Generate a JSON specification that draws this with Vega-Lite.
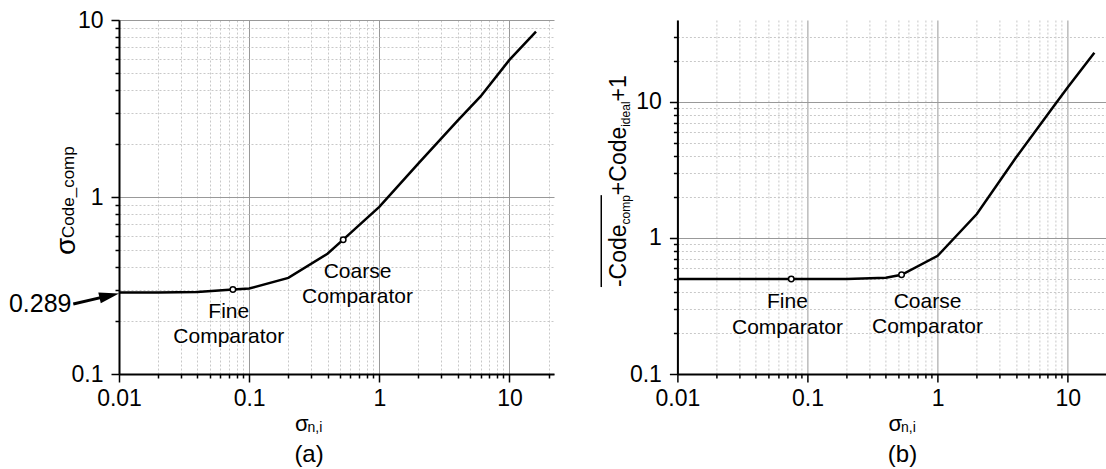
{
  "$schema": "https://vega.github.io/schema/vega-lite/v6.json",
  "padding": {"left": 8, "top": 9, "right": 0, "bottom": 0},
  "background": "white",
  "config": {
    "view": {"stroke": null},
    "font": "Liberation Sans",
    "text": {"font": "Liberation Sans", "color": "black"},
    "axis": {
      "labelFont": "Liberation Sans",
      "labelFontSize": 23,
      "labelColor": "black",
      "domainColor": "black",
      "domainWidth": 2,
      "tickColor": "black",
      "tickWidth": 1.5,
      "labelOverlap": false,
      "labelFlush": false,
      "title": null
    }
  },
  "datasets": {
    "curveA": [
      {"x": 0.01, "y": 0.289}, {"x": 0.02, "y": 0.289}, {"x": 0.04, "y": 0.291},
      {"x": 0.075, "y": 0.3}, {"x": 0.1, "y": 0.304}, {"x": 0.2, "y": 0.349},
      {"x": 0.4, "y": 0.478}, {"x": 0.528, "y": 0.574}, {"x": 1, "y": 0.88},
      {"x": 2, "y": 1.55}, {"x": 4, "y": 2.7}, {"x": 6, "y": 3.7},
      {"x": 10, "y": 5.95}, {"x": 16, "y": 8.6}
    ],
    "markA": [{"x": 0.075, "y": 0.3}, {"x": 0.528, "y": 0.574}],
    "curveB": [
      {"x": 0.01, "y": 0.5}, {"x": 0.1, "y": 0.5}, {"x": 0.2, "y": 0.5},
      {"x": 0.4, "y": 0.51}, {"x": 0.528, "y": 0.536}, {"x": 1, "y": 0.74},
      {"x": 2, "y": 1.5}, {"x": 4, "y": 3.9}, {"x": 8, "y": 9.6},
      {"x": 10, "y": 12.8}, {"x": 16, "y": 23}
    ],
    "markB": [{"x": 0.075, "y": 0.5}, {"x": 0.528, "y": 0.536}],
    "annotA": [
      {"t": "Fine", "x": 0.0697, "y": 0.2249},
      {"t": "Comparator", "x": 0.0697, "y": 0.161},
      {"t": "Coarse", "x": 0.68, "y": 0.378},
      {"t": "Comparator", "x": 0.68, "y": 0.273}
    ],
    "annotB": [
      {"t": "Fine", "x": 0.0701, "y": 0.3357},
      {"t": "Comparator", "x": 0.0701, "y": 0.2189},
      {"t": "Coarse", "x": 0.835, "y": 0.3387},
      {"t": "Comparator", "x": 0.835, "y": 0.2226}
    ]
  },
  "bounds": "flush",
  "spacing": 123.4,
  "hconcat": [
    {
      "width": 435,
      "height": 354,
      "resolve": {"axis": {"x": "independent", "y": "independent"}},
      "layer": [
        {
          "data": {"name": "curveA"},
          "mark": {"type": "line", "opacity": 0},
          "encoding": {
            "x": {"field": "x", "type": "quantitative",
              "scale": {"type": "log", "domain": [0.01, 22], "nice": false},
              "axis": {"orient": "bottom", "values": [0.02,0.03,0.04,0.05,0.06,0.07,0.08,0.09,0.2,0.3,0.4,0.5,0.6,0.7,0.8,0.9,2,3,4,5,6,7,8,9,20],
                "labels": false, "domain": false, "tickSize": 4, "grid": true, "gridColor": "#c8c8c8", "gridDash": [2, 2], "gridWidth": 1}},
            "y": {"field": "y", "type": "quantitative",
              "scale": {"type": "log", "domain": [0.1, 10], "nice": false},
              "axis": {"orient": "left", "values": [0.2,0.3,0.4,0.5,0.6,0.7,0.8,0.9,2,3,4,5,6,7,8,9],
                "labels": false, "domain": false, "tickSize": 4, "grid": true, "gridColor": "#c8c8c8", "gridDash": [2, 2], "gridWidth": 1}}
          }
        },
        {
          "data": {"name": "curveA"},
          "mark": {"type": "line", "color": "black", "strokeWidth": 2.5},
          "encoding": {
            "x": {"field": "x", "type": "quantitative",
              "scale": {"type": "log", "domain": [0.01, 22], "nice": false},
              "axis": {"orient": "bottom", "values": [0.01, 0.1, 1, 10], "format": "~g", "tickSize": 8, "labelPadding": 5,
                "grid": true, "gridColor": "#999999", "gridWidth": 1}},
            "y": {"field": "y", "type": "quantitative",
              "scale": {"type": "log", "domain": [0.1, 10], "nice": false},
              "axis": {"orient": "left", "values": [0.1, 1, 10], "format": "~g", "tickSize": 8, "labelPadding": 8,
                "grid": true, "gridColor": "#999999", "gridWidth": 1}}
          }
        },
        {
          "data": {"name": "markA"},
          "mark": {"type": "point", "filled": true, "fill": "white", "stroke": "black", "strokeWidth": 1.5, "size": 30, "opacity": 1},
          "encoding": {
            "x": {"field": "x", "type": "quantitative", "scale": {"type": "log", "domain": [0.01, 22], "nice": false}, "axis": null},
            "y": {"field": "y", "type": "quantitative", "scale": {"type": "log", "domain": [0.1, 10], "nice": false}, "axis": null}
          }
        },
        {
          "data": {"name": "annotA"},
          "mark": {"type": "text", "fontSize": 21, "align": "center", "baseline": "middle"},
          "encoding": {
            "x": {"field": "x", "type": "quantitative", "scale": {"type": "log", "domain": [0.01, 22], "nice": false}, "axis": null},
            "y": {"field": "y", "type": "quantitative", "scale": {"type": "log", "domain": [0.1, 10], "nice": false}, "axis": null},
            "text": {"field": "t"}
          }
        },
        {
          "data": {"values": [{"t": "σ", "x": 0.00459, "y": 0.47}]},
          "mark": {"type": "text", "fontSize": 28, "angle": 270, "align": "left", "baseline": "alphabetic"},
          "encoding": {
            "x": {"field": "x", "type": "quantitative", "scale": {"type": "log", "domain": [0.01, 22], "nice": false}, "axis": null},
            "y": {"field": "y", "type": "quantitative", "scale": {"type": "log", "domain": [0.1, 10], "nice": false}, "axis": null},
            "text": {"field": "t"}
          }
        },
        {
          "data": {"values": [{"t": "Code_comp", "x": 0.00451, "y": 0.587}]},
          "mark": {"type": "text", "fontSize": 17, "angle": 270, "align": "left", "baseline": "alphabetic"},
          "encoding": {
            "x": {"field": "x", "type": "quantitative", "scale": {"type": "log", "domain": [0.01, 22], "nice": false}, "axis": null},
            "y": {"field": "y", "type": "quantitative", "scale": {"type": "log", "domain": [0.1, 10], "nice": false}, "axis": null},
            "text": {"field": "t"}
          }
        },
        {
          "data": {"values": [{"t": "σ", "x": 0.2254, "y": 0.04764}]},
          "mark": {"type": "text", "fontSize": 22, "align": "left", "baseline": "alphabetic"},
          "encoding": {
            "x": {"field": "x", "type": "quantitative", "scale": {"type": "log", "domain": [0.01, 22], "nice": false}, "axis": null},
            "y": {"field": "y", "type": "quantitative", "scale": {"type": "log", "domain": [0.1, 10], "nice": false}, "axis": null},
            "text": {"field": "t"}
          }
        },
        {
          "data": {"values": [{"t": "n,i", "x": 0.2812, "y": 0.04701}]},
          "mark": {"type": "text", "fontSize": 14, "align": "left", "baseline": "alphabetic"},
          "encoding": {
            "x": {"field": "x", "type": "quantitative", "scale": {"type": "log", "domain": [0.01, 22], "nice": false}, "axis": null},
            "y": {"field": "y", "type": "quantitative", "scale": {"type": "log", "domain": [0.1, 10], "nice": false}, "axis": null},
            "text": {"field": "t"}
          }
        },
        {
          "data": {"values": [{"t": "(a)", "x": 0.2886, "y": 0.03194}]},
          "mark": {"type": "text", "fontSize": 24, "align": "center", "baseline": "alphabetic"},
          "encoding": {
            "x": {"field": "x", "type": "quantitative", "scale": {"type": "log", "domain": [0.01, 22], "nice": false}, "axis": null},
            "y": {"field": "y", "type": "quantitative", "scale": {"type": "log", "domain": [0.1, 10], "nice": false}, "axis": null},
            "text": {"field": "t"}
          }
        },
        {
          "data": {"values": [{"t": "0.289", "x": 0.004315, "y": 0.2486}]},
          "mark": {"type": "text", "fontSize": 25, "align": "right", "baseline": "middle"},
          "encoding": {
            "x": {"field": "x", "type": "quantitative", "scale": {"type": "log", "domain": [0.01, 22], "nice": false}, "axis": null},
            "y": {"field": "y", "type": "quantitative", "scale": {"type": "log", "domain": [0.1, 10], "nice": false}, "axis": null},
            "text": {"field": "t"}
          }
        },
        {
          "data": {"values": [{"x": 0.004454, "y": 0.2486, "x2": 0.0078, "y2": 0.2737}]},
          "mark": {"type": "rule", "color": "black", "strokeWidth": 3},
          "encoding": {
            "x": {"field": "x", "type": "quantitative", "scale": {"type": "log", "domain": [0.01, 22], "nice": false}, "axis": null},
            "y": {"field": "y", "type": "quantitative", "scale": {"type": "log", "domain": [0.1, 10], "nice": false}, "axis": null},
            "x2": {"field": "x2"},
            "y2": {"field": "y2"}
          }
        },
        {
          "data": {"values": [{"x": 0.00842, "y": 0.277}]},
          "mark": {"type": "point", "shape": "M -1 -0.55 L 1 0 L -1 0.55 Z", "size": 400, "angle": -13, "filled": true, "color": "black", "opacity": 1},
          "encoding": {
            "x": {"field": "x", "type": "quantitative", "scale": {"type": "log", "domain": [0.01, 22], "nice": false}, "axis": null},
            "y": {"field": "y", "type": "quantitative", "scale": {"type": "log", "domain": [0.1, 10], "nice": false}, "axis": null}
          }
        }
      ]
    },
    {
      "width": 429,
      "height": 354,
      "resolve": {"axis": {"x": "independent", "y": "independent"}},
      "layer": [
        {
          "data": {"name": "curveB"},
          "mark": {"type": "line", "opacity": 0},
          "encoding": {
            "x": {"field": "x", "type": "quantitative",
              "scale": {"type": "log", "domain": [0.01, 19.8], "nice": false},
              "axis": {"orient": "bottom", "values": [0.02,0.03,0.04,0.05,0.06,0.07,0.08,0.09,0.2,0.3,0.4,0.5,0.6,0.7,0.8,0.9,2,3,4,5,6,7,8,9],
                "labels": false, "domain": false, "tickSize": 4, "grid": true, "gridColor": "#c8c8c8", "gridDash": [2, 2], "gridWidth": 1}},
            "y": {"field": "y", "type": "quantitative",
              "scale": {"type": "log", "domain": [0.1, 40], "nice": false},
              "axis": {"orient": "left", "values": [0.2,0.3,0.4,0.5,0.6,0.7,0.8,0.9,2,3,4,5,6,7,8,9,20,30],
                "labels": false, "domain": false, "tickSize": 4, "grid": true, "gridColor": "#c8c8c8", "gridDash": [2, 2], "gridWidth": 1}}
          }
        },
        {
          "data": {"name": "curveB"},
          "mark": {"type": "line", "color": "black", "strokeWidth": 2.5},
          "encoding": {
            "x": {"field": "x", "type": "quantitative",
              "scale": {"type": "log", "domain": [0.01, 19.8], "nice": false},
              "axis": {"orient": "bottom", "values": [0.01, 0.1, 1, 10], "format": "~g", "tickSize": 8, "labelPadding": 5,
                "grid": true, "gridColor": "#999999", "gridWidth": 1}},
            "y": {"field": "y", "type": "quantitative",
              "scale": {"type": "log", "domain": [0.1, 40], "nice": false},
              "axis": {"orient": "left", "values": [0.1, 1, 10], "format": "~g", "tickSize": 8, "labelPadding": 8,
                "grid": true, "gridColor": "#999999", "gridWidth": 1}}
          }
        },
        {
          "data": {"name": "markB"},
          "mark": {"type": "point", "filled": true, "fill": "white", "stroke": "black", "strokeWidth": 1.5, "size": 30, "opacity": 1},
          "encoding": {
            "x": {"field": "x", "type": "quantitative", "scale": {"type": "log", "domain": [0.01, 19.8], "nice": false}, "axis": null},
            "y": {"field": "y", "type": "quantitative", "scale": {"type": "log", "domain": [0.1, 40], "nice": false}, "axis": null}
          }
        },
        {
          "data": {"name": "annotB"},
          "mark": {"type": "text", "fontSize": 21, "align": "center", "baseline": "middle"},
          "encoding": {
            "x": {"field": "x", "type": "quantitative", "scale": {"type": "log", "domain": [0.01, 19.8], "nice": false}, "axis": null},
            "y": {"field": "y", "type": "quantitative", "scale": {"type": "log", "domain": [0.1, 40], "nice": false}, "axis": null},
            "text": {"field": "t"}
          }
        },
        {
          "data": {"values": [{"t": "-Code", "x": 0.004055, "y": 0.4356}, {"t": "+Code", "x": 0.004055, "y": 2.0634}, {"t": "+1", "x": 0.004055, "y": 10.07}]},
          "mark": {"type": "text", "fontSize": 23, "angle": 270, "align": "left", "baseline": "alphabetic"},
          "encoding": {
            "x": {"field": "x", "type": "quantitative", "scale": {"type": "log", "domain": [0.01, 19.8], "nice": false}, "axis": null},
            "y": {"field": "y", "type": "quantitative", "scale": {"type": "log", "domain": [0.1, 40], "nice": false}, "axis": null},
            "text": {"field": "t"}
          }
        },
        {
          "data": {"values": [{"t": "comp", "x": 0.004355, "y": 1.2566}, {"t": "ideal", "x": 0.004355, "y": 6.561}]},
          "mark": {"type": "text", "fontSize": 12, "angle": 270, "align": "left", "baseline": "alphabetic"},
          "encoding": {
            "x": {"field": "x", "type": "quantitative", "scale": {"type": "log", "domain": [0.01, 19.8], "nice": false}, "axis": null},
            "y": {"field": "y", "type": "quantitative", "scale": {"type": "log", "domain": [0.1, 40], "nice": false}, "axis": null},
            "text": {"field": "t"}
          }
        },
        {
          "data": {"values": [{"x": 0.0026, "y": 0.4356, "y2": 2.0634}]},
          "mark": {"type": "rule", "color": "black", "strokeWidth": 1.5},
          "encoding": {
            "x": {"field": "x", "type": "quantitative", "scale": {"type": "log", "domain": [0.01, 19.8], "nice": false}, "axis": null},
            "y": {"field": "y", "type": "quantitative", "scale": {"type": "log", "domain": [0.1, 40], "nice": false}, "axis": null},
            "y2": {"field": "y2"}
          }
        },
        {
          "data": {"values": [{"t": "σ", "x": 0.4184, "y": 0.03813}]},
          "mark": {"type": "text", "fontSize": 22, "align": "left", "baseline": "alphabetic"},
          "encoding": {
            "x": {"field": "x", "type": "quantitative", "scale": {"type": "log", "domain": [0.01, 19.8], "nice": false}, "axis": null},
            "y": {"field": "y", "type": "quantitative", "scale": {"type": "log", "domain": [0.1, 40], "nice": false}, "axis": null},
            "text": {"field": "t"}
          }
        },
        {
          "data": {"values": [{"t": "n,i", "x": 0.5223, "y": 0.03749}]},
          "mark": {"type": "text", "fontSize": 14, "align": "left", "baseline": "alphabetic"},
          "encoding": {
            "x": {"field": "x", "type": "quantitative", "scale": {"type": "log", "domain": [0.01, 19.8], "nice": false}, "axis": null},
            "y": {"field": "y", "type": "quantitative", "scale": {"type": "log", "domain": [0.1, 40], "nice": false}, "axis": null},
            "text": {"field": "t"}
          }
        },
        {
          "data": {"values": [{"t": "(b)", "x": 0.5364, "y": 0.02267}]},
          "mark": {"type": "text", "fontSize": 24, "align": "center", "baseline": "alphabetic"},
          "encoding": {
            "x": {"field": "x", "type": "quantitative", "scale": {"type": "log", "domain": [0.01, 19.8], "nice": false}, "axis": null},
            "y": {"field": "y", "type": "quantitative", "scale": {"type": "log", "domain": [0.1, 40], "nice": false}, "axis": null},
            "text": {"field": "t"}
          }
        }
      ]
    }
  ]
}
